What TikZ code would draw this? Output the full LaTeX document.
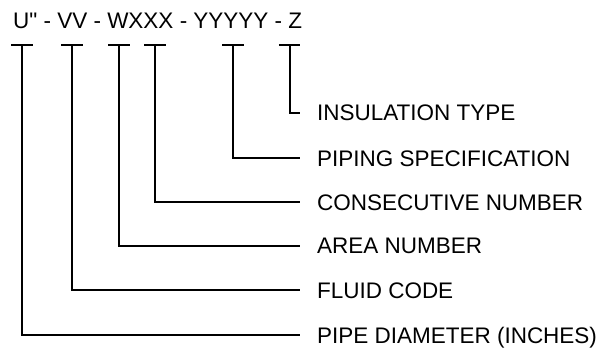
\documentclass[tikz,border=0pt]{standalone}
\usepackage{fontspec}
\setmainfont{Liberation Sans}[Ligatures=TeXOff]
\usetikzlibrary{calc,positioning}

\tikzset{
  lbl/.style={anchor=west,inner xsep=0.4cm,inner ysep=0pt,text height=0.4cm,text depth=0pt},
  tick/.style={line width=1.5pt}
}

\begin{document}
\begin{tikzpicture}[scale=1.0,line width=1.5pt,font=\fontsize{16}{19}\selectfont]
  \useasboundingbox (0,0) rectangle (15,8.825);
  \node[anchor=base west,inner sep=0pt] (code) at (0.3,8.1) {U" - VV - WXXX - YYYYY - Z};
  \foreach \x/\y/\txt [count=\i] in {0.55/0.45/{PIPE DIAMETER (INCHES)},
      1.8/1.575/{FLUID CODE}, 2.975/2.675/{AREA NUMBER},
      3.875/3.775/{CONSECUTIVE NUMBER}, 5.825/4.875/{PIPING SPECIFICATION},
      7.24/6.0/{INSULATION TYPE}} {
    \coordinate (t\i) at (\x,7.7);
    \node[lbl] (l\i) at (7.5,\y) {\txt};
    \draw[tick] ([xshift=-0.27cm]t\i) -- ([xshift=0.27cm]t\i);
    \draw (t\i) |- (l\i.west);
  }
\end{tikzpicture}
\end{document}
